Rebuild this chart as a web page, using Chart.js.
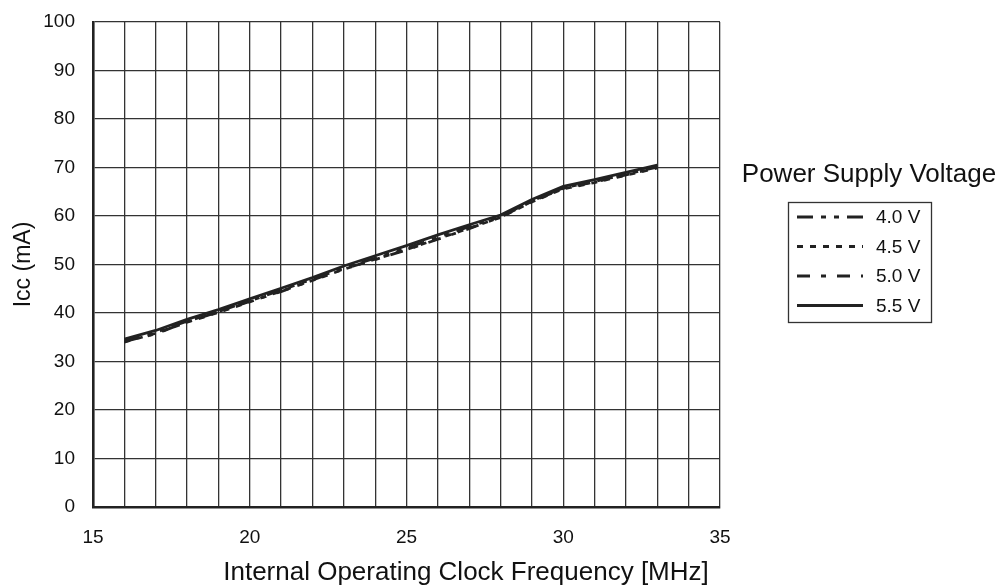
<!DOCTYPE html>
<html>
<head>
<meta charset="utf-8">
<script src="https://cdn.jsdelivr.net/npm/chart.js@4.4.1/dist/chart.umd.min.js"></script>
<style>
  html, body { margin: 0; padding: 0; background: #fff; }
  #wrap { width: 1005px; height: 588px; }
</style>
</head>
<body>
<div id="wrap"><canvas id="iccChart"></canvas></div>
<script>
  // values, mA at each MHz step
  const freqs = [16, 17, 18, 19, 20, 21, 22, 23, 24, 25, 26, 27, 28, 29, 30, 31, 32, 33];
  const icc40 = [34.2, 36.0, 38.3, 40.3, 42.5, 44.7, 47.0, 49.3, 51.3, 53.4, 55.6, 57.8, 59.9, 63.1, 65.8, 67.1, 68.6, 70.1];
  const icc45 = [34.0, 35.8, 38.1, 40.1, 42.3, 44.5, 46.7, 49.0, 51.1, 53.1, 55.3, 57.5, 59.7, 62.9, 65.6, 66.9, 68.4, 69.9];
  const icc50 = [34.1, 35.7, 38.2, 40.2, 42.4, 44.4, 46.8, 49.1, 51.0, 53.0, 55.2, 57.4, 59.8, 63.0, 65.7, 67.0, 68.5, 70.0];
  const icc55 = [34.6, 36.4, 38.7, 40.7, 42.9, 45.1, 47.3, 49.7, 51.8, 53.9, 56.1, 58.2, 60.2, 63.4, 66.1, 67.5, 69.0, 70.5];
  const voltLabels = ['4.0 V', '4.5 V', '5.0 V', '5.5 V'];
  const xTicks = [15, 20, 25, 30, 35];

  const font = '"Liberation Sans", Arial, sans-serif';

  function pts(vals) {
    return freqs.map((f, i) => ({ x: f, y: vals[i] }));
  }

  // x axis title (sits right of centre in the original) and the voltage key
  const extras = {
    id: 'extras',
    afterDraw(chart) {
      const ctx = chart.ctx;
      ctx.save();
      ctx.fillStyle = '#111';
      ctx.textAlign = 'center';
      ctx.textBaseline = 'middle';
      ctx.font = '26px ' + font;
      ctx.fillText('Internal Operating Clock Frequency [MHz]', 466, 573);
      ctx.fillText('Power Supply Voltage', 869, 175);

      ctx.strokeStyle = '#333';
      ctx.lineWidth = 1.3;
      ctx.strokeRect(788.5, 202.5, 143, 120);

      ctx.font = '19px ' + font;
      ctx.textAlign = 'left';
      chart.data.datasets.forEach((ds, i) => {
        const y = 217 + i * 29.5;
        ctx.beginPath();
        ctx.setLineDash(ds.borderDash || []);
        ctx.lineWidth = 3;
        ctx.strokeStyle = '#222';
        ctx.moveTo(797, y);
        ctx.lineTo(863, y);
        ctx.stroke();
        ctx.setLineDash([]);
        ctx.fillText(ds.label, 876, y + 1);
      });
      ctx.restore();
    }
  };

  const iccCtx = document.getElementById('iccChart').getContext('2d');
  const iccChart = new Chart(iccCtx, {
    type: 'line',
    data: {
      datasets: [
        { label: voltLabels[0], data: pts(icc40), borderDash: [16, 8, 5, 8, 5, 8] },
        { label: voltLabels[1], data: pts(icc45), borderDash: [6, 7] },
        { label: voltLabels[2], data: pts(icc50), borderDash: [13, 11, 5, 11] },
        { label: voltLabels[3], data: pts(icc55), borderDash: [] }
      ].map(ds => Object.assign(ds, {
        borderColor: '#222',
        borderWidth: 2.8,
        pointRadius: 0,
        fill: false,
        tension: 0
      }))
    },
    options: {
      responsive: true,
      maintainAspectRatio: false,
      animation: false,
      layout: { padding: { left: 10, right: 285, top: 22, bottom: 0 } },
      plugins: {
        legend: { display: false },
        tooltip: { enabled: false }
      },
      scales: {
        x: {
          type: 'linear',
          min: 15,
          max: 35,
          afterFit: s => { s.height = 81; },
          afterBuildTicks: s => {
            s.ticks = [];
            for (let v = 15; v <= 35; v++) s.ticks.push({ value: v });
          },
          ticks: {
            autoSkip: false,
            maxRotation: 0,
            padding: 19,
            color: '#111',
            font: { family: font, size: 19 },
            callback: v => xTicks.includes(v) ? String(v) : ''
          },
          grid: { color: '#333', lineWidth: 1.3, drawTicks: false },
          border: { color: '#222', width: 2.6 }
        },
        y: {
          min: 0,
          max: 100,
          afterFit: s => { s.width = 83; s.paddingTop = 0; s.paddingBottom = 0; },
          ticks: {
            stepSize: 10,
            padding: 18,
            color: '#111',
            font: { family: font, size: 19 }
          },
          grid: { color: '#333', lineWidth: 1.3, drawTicks: false },
          border: { color: '#222', width: 2.6 },
          title: {
            display: true,
            text: 'Icc (mA)',
            color: '#111',
            font: { family: font, size: 23 },
            padding: { top: 0, bottom: 4 }
          }
        }
      }
    },
    plugins: [extras]
  });
</script>
</body>
</html>
